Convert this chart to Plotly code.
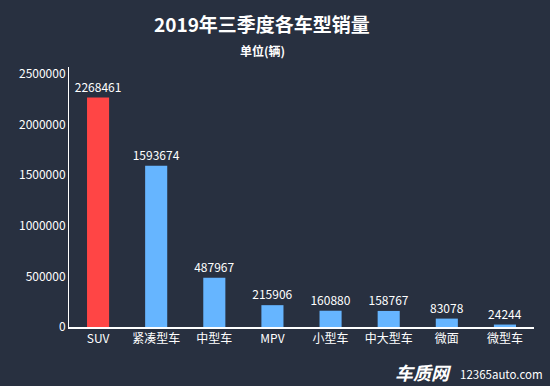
import plotly.graph_objects as go

categories = ["SUV", "紧凑型车", "中型车", "MPV", "小型车", "中大型车", "微面", "微型车"]
sales = [2268461, 1593674, 487967, 215906, 160880, 158767, 83078, 24244]
bar_colors = ["#ff4545"] + ["#66b5ff"] * 7
tick_vals = [0, 500000, 1000000, 1500000, 2000000, 2500000]

font_cjk = "Noto Sans CJK SC"

fig = go.Figure(go.Bar(
    x=categories, y=sales,
    marker=dict(color=bar_colors, line=dict(width=0)),
    width=0.38,
    text=[str(v) for v in sales], textposition="outside",
    constraintext="none",
    textfont=dict(color="#ffffff", size=12, family=font_cjk),
    cliponaxis=False,
))

H_PLOT = 386 - 67 - 59
W_PLOT = 550 - 69 - 16

fig.update_layout(
    width=550, height=386,
    margin=dict(l=69, r=16, t=67, b=59),
    paper_bgcolor="#283040", plot_bgcolor="#283040",
    showlegend=False,
    font=dict(family=font_cjk, color="#ffffff", size=12),
    xaxis=dict(showline=True, linecolor="#ffffff", linewidth=1.5, showgrid=False,
               ticks="", tickfont=dict(size=12, color="#ffffff"), automargin=False),
    yaxis=dict(range=[0, 2570000], tickvals=tick_vals, ticktext=[str(v) for v in tick_vals],
               showline=True, linecolor="#ffffff", linewidth=1, showgrid=False, zeroline=False,
               ticks="", tickfont=dict(size=12, color="#ffffff"), automargin=False),
)
fig.add_annotation(text="<b>2019年三季度各车型销量</b>", xref="paper", yref="paper",
                   x=(262 - 69) / W_PLOT, y=(386 - 59 - 24) / H_PLOT, xanchor="center", yanchor="middle",
                   showarrow=False, font=dict(size=19, color="#ffffff"))
fig.add_annotation(text="<b>单位(辆)</b>", xref="paper", yref="paper",
                   x=(262 - 69) / W_PLOT, y=(386 - 59 - 50) / H_PLOT, xanchor="center", yanchor="middle",
                   showarrow=False, font=dict(size=12, color="#ffffff"))
fig.add_annotation(text="<b><i>车质网</i></b>", xref="paper", yref="paper",
                   x=(393 - 69) / W_PLOT, y=-(372 - 327) / H_PLOT, xanchor="left", yanchor="middle",
                   showarrow=False, font=dict(size=18, color="#ffffff"))
fig.add_annotation(text="12365auto.com", xref="paper", yref="paper",
                   x=(458 - 69) / W_PLOT, y=-(374 - 327) / H_PLOT, xanchor="left", yanchor="middle",
                   showarrow=False, font=dict(size=11.5, color="#ffffff"))

fig.write_html("out.html", config={"displayModeBar": False},
               post_script="document.body.style.margin='0';document.body.style.background='#283040';")
